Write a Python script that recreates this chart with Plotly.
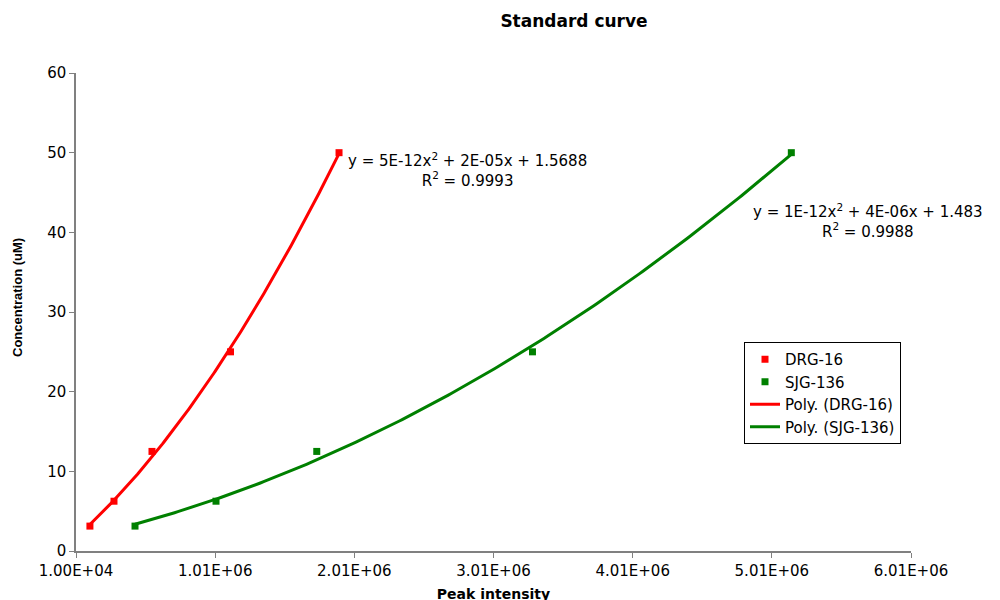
import numpy as np
import plotly.graph_objects as go

# Data
conc = [3.125, 6.25, 12.5, 25, 50]
drg_x = [110000, 283000, 556000, 1120000, 1900000]
sjg_x = [434000, 1016000, 1740000, 3290000, 5150000]
x_ticks = [1.00e4, 1.01e6, 2.01e6, 3.01e6, 4.01e6, 5.01e6, 6.01e6]
x_tick_labels = ["1.00E+04", "1.01E+06", "2.01E+06", "3.01E+06", "4.01E+06", "5.01E+06", "6.01E+06"]
y_ticks = [0, 10, 20, 30, 40, 50, 60]

def trend(xs, ys):
    c = np.polyfit(xs, ys, 2)
    xx = np.linspace(min(xs), max(xs), 200)
    return xx, np.polyval(c, xx)

SANS = "DejaVu Sans, Liberation Sans, Arial, sans-serif"
OFF = 8  # page body margin offset

fig = go.Figure()
fig.add_trace(go.Scatter(x=drg_x, y=conc, mode="markers", name="DRG-16",
                         marker=dict(symbol="square", size=7, color="#ff0000")))
fig.add_trace(go.Scatter(x=sjg_x, y=conc, mode="markers", name="SJG-136",
                         marker=dict(symbol="square", size=7, color="#008000")))
tx, ty = trend(drg_x, conc)
fig.add_trace(go.Scatter(x=tx, y=ty, mode="lines", name="Poly. (DRG-16)",
                         line=dict(color="#ff0000", width=3)))
tx, ty = trend(sjg_x, conc)
fig.add_trace(go.Scatter(x=tx, y=ty, mode="lines", name="Poly. (SJG-136)",
                         line=dict(color="#008000", width=3)))

fig.add_annotation(x=2.826e6, y=47.8, xref="x", yref="y", showarrow=False,
                   text="y = 5E-12x<sup>2</sup> + 2E-05x + 1.5688<br>R<sup>2</sup> = 0.9993",
                   font=dict(size=15, color="black", family=SANS), align="center")
fig.add_annotation(x=5.70e6, y=41.4, xref="x", yref="y", showarrow=False,
                   text="y = 1E-12x<sup>2</sup> + 4E-06x + 1.483<br>R<sup>2</sup> = 0.9988",
                   font=dict(size=15, color="black", family=SANS), align="center")

W, H = 1000, 600
px0, px1 = 76 - OFF, 911 - OFF
py0, py1 = 73 - OFF, 551 - OFF

# y-axis title as rotated text
fig.add_annotation(x=(17 - OFF - px0) / (px1 - px0), y=(py1 - (298 - OFF)) / (py1 - py0),
                   xref="paper", yref="paper", showarrow=False, textangle=-90,
                   xanchor="center", yanchor="middle",
                   text="<b>Concentration (uM)</b>",
                   font=dict(size=13, color="black", family="Liberation Sans, Arial, sans-serif"))

fig.update_layout(
    width=W, height=H,
    paper_bgcolor="white", plot_bgcolor="white",
    margin=dict(l=px0, r=W - px1, t=py0, b=H - py1),
    font=dict(family=SANS, color="black"),
    title=dict(text="<b>Standard curve</b>", x=(574 - OFF) / W, xanchor="center",
               y=1 - (21 - OFF) / H, yanchor="middle",
               font=dict(size=17, family=SANS)),
    showlegend=True,
    legend=dict(x=(744 - OFF - px0) / (px1 - px0), y=(py1 - (342 - OFF)) / (py1 - py0),
                xanchor="left", yanchor="top",
                bordercolor="black", borderwidth=1, bgcolor="white",
                font=dict(size=15, family=SANS), tracegroupgap=0,
                entrywidth=170, entrywidthmode="pixels"),
    xaxis=dict(range=[1.00e4, 6.01e6], tickvals=x_ticks, ticktext=x_tick_labels, automargin=False,
               showgrid=False, zeroline=False, showline=True, linecolor="#808080", linewidth=1.5,
               ticks="outside", ticklen=5, tickcolor="#808080", tickfont=dict(size=15),
               title=dict(text="<b>Peak intensity</b>", font=dict(size=14), standoff=10)),
    yaxis=dict(range=[0, 60], tickvals=y_ticks, automargin=False,
               showgrid=False, zeroline=False, showline=True, linecolor="#808080", linewidth=1.5,
               ticks="outside", ticklen=5, tickcolor="#808080", tickfont=dict(size=15)),
)

fig.write_html("out.html")
